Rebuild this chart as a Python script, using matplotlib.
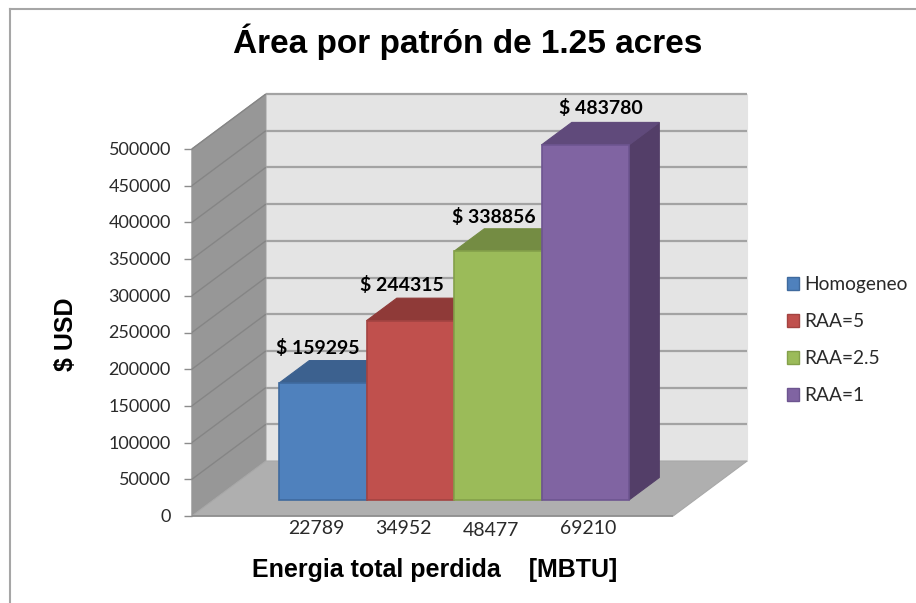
#!/usr/bin/env python
"""Excel-style 3D column chart, drawn on a flat axes with an oblique depth shear."""
import matplotlib, numpy as np
matplotlib.use('Agg')
import matplotlib.pyplot as plt
from matplotlib.patches import Patch, Polygon

series = ['Homogeneo', 'RAA=5', 'RAA=2.5', 'RAA=1']
costs = [159295, 244315, 338856, 483780]
energy = ['22789', '34952', '48477', '69210']
yticks = list(range(0, 500001, 50000))

FRONT = ['#4f81bd', '#c0504d', '#9bbb59', '#8064a2']
TOP = ['#3c618f', '#8f3a38', '#748c43', '#604a7b']
SIDE = ['#375a85', '#853634', '#6c833e', '#533e68']
EDGE = ['#3f6a9e', '#a34341', '#84a04a', '#6d5590']
# hand-placed in the original: (dx in px from bar centre, dy in px above bar top)
LABEL_OFF = [(-5, 35), (-8, 35.5), (-4, 34), (16, 37)]
CAT_X = [316, 403, 491, 588]
CAT_Y = [529, 529, 531, 528]

W, H = 916, 603
PX_X = 87.5                  # px per bar width
PX_Y = 367 / 500000          # px per USD
X0_PX, Y0_PX = 257.5, 516    # where x=0, value=0 lands at depth 0
DEPTH_PX = (74, 55)          # px shift of the full floor depth
X_LO, X_HI = -0.75, 4.75     # floor extent
BAR_D = (16 / 55, 38.5 / 55) # bar front/back depth


def proj(x, v, d=0.0):
  """(x, value, depth) -> data coords of the flat axes."""
  return x + d * DEPTH_PX[0] / PX_X, v + d * DEPTH_PX[1] / PX_Y


def face(ax, pts, color, edge=None, lw=0.8, z=1):
  ax.add_patch(Polygon([proj(*p) for p in pts], closed=True, facecolor=color,
                       edgecolor=edge or color, lw=lw, zorder=z))


def line(ax, pts, color, lw=1.0, z=2):
  xy = np.array([proj(*p) for p in pts])
  ax.plot(xy[:, 0], xy[:, 1], color=color, lw=lw, zorder=z,
          solid_capstyle='butt')


fig = plt.figure(figsize=(W / 100, H / 100), dpi=100)
ax = fig.add_axes([0, 0, 1, 1])
ax.set_xlim(-X0_PX / PX_X, (W - X0_PX) / PX_X)
ax.set_ylim((Y0_PX - H) / PX_Y, Y0_PX / PX_Y)
ax.set_axis_off()

# chart border: only top and left survive in the screenshot
fig.add_artist(plt.Line2D([10 / W, 10 / W], [0, 1 - 9 / H], color='#a6a6a6', lw=1.5))
fig.add_artist(plt.Line2D([10 / W, 1], [1 - 9 / H, 1 - 9 / H], color='#a6a6a6', lw=1.5))

vmax = yticks[-1]
face(ax, [(X_LO, 0, 1), (X_HI, 0, 1), (X_HI, vmax, 1), (X_LO, vmax, 1)], '#e4e4e4', z=1)
face(ax, [(X_LO, 0, 0), (X_LO, 0, 1), (X_LO, vmax, 1), (X_LO, vmax, 0)], '#979797', '#979797', z=1)
face(ax, [(X_LO, 0, 0), (X_HI, 0, 0), (X_HI, 0, 1), (X_LO, 0, 1)], '#afafaf', '#a8a8a8', z=1)

for v in yticks:
  if v > 0:
    line(ax, [(X_LO, v, 0), (X_LO, v, 1)], '#858585', lw=1.0)
    line(ax, [(X_LO, v, 1), (X_HI, v, 1)], '#a3a3a3', lw=1.6)
  line(ax, [(X_LO, v, 0), (X_LO - 8 / PX_X, v, 0)], '#8c8c8c', lw=1.0)
  tx, ty = proj(X_LO - 21 / PX_X, v - 1 / PX_Y)
  ax.text(tx, ty, str(v), ha='right', va='center', fontsize=13, family='Lato',
          color='#2a2a2a')
line(ax, [(X_LO, 0, 0), (X_HI, 0, 0)], '#8c8c8c', lw=1.2)

for i, v in enumerate(costs):
  d0, d1 = BAR_D
  z = 3 + i
  face(ax, [(i + 1, 0, d0), (i + 1, 0, d1), (i + 1, v, d1), (i + 1, v, d0)], SIDE[i], z=z)
  face(ax, [(i, v, d0), (i + 1, v, d0), (i + 1, v, d1), (i, v, d1)], TOP[i], z=z)
  face(ax, [(i, 0, d0), (i + 1, 0, d0), (i + 1, v, d0), (i, v, d0)], FRONT[i], EDGE[i], lw=1.2, z=z)
  dx, dy = LABEL_OFF[i]
  tx, ty = proj(i + 0.5 + dx / PX_X, v + dy / PX_Y, d0)
  ax.text(tx, ty, f'$ {v}'.replace('$', r'\$'), ha='center', va='center',
          fontsize=14, family='Lato', weight='bold', color='black', zorder=10)

for lab, px, py in zip(energy, CAT_X, CAT_Y):
  ax.text((px - X0_PX) / PX_X, (Y0_PX - py) / PX_Y, lab, ha='center', va='center',
          fontsize=14, family='Lato', color='#2a2a2a')

sans = 'Liberation Sans'
fig.text(468 / W, 1 - 42 / H, 'Área por patrón de 1.25 acres', ha='center', va='center',
         fontsize=24, family=sans, weight='bold')
fig.text(435 / W, 1 - 570 / H, 'Energia total perdida    [MBTU]', ha='center', va='center',
         fontsize=18, family=sans, weight='bold')
fig.text(66 / W, 1 - 334 / H, r'\$ USD', ha='center', va='center', rotation=90,
         fontsize=18, family=sans, weight='bold')

handles = [Patch(facecolor=f, edgecolor=e, lw=1.0) for f, e in zip(FRONT, EDGE)]
ax.legend(handles, series, loc='upper left', bbox_to_anchor=(787 / W, 1 - 276 / H),
          bbox_transform=fig.transFigure, frameon=False, prop=dict(family='Lato', size=13.8),
          handlelength=0.63, handleheight=0.63, handletextpad=0.26, labelspacing=1.05,
          borderpad=0, borderaxespad=0, labelcolor='#2a2a2a')

fig.savefig('out.png', dpi=100)
